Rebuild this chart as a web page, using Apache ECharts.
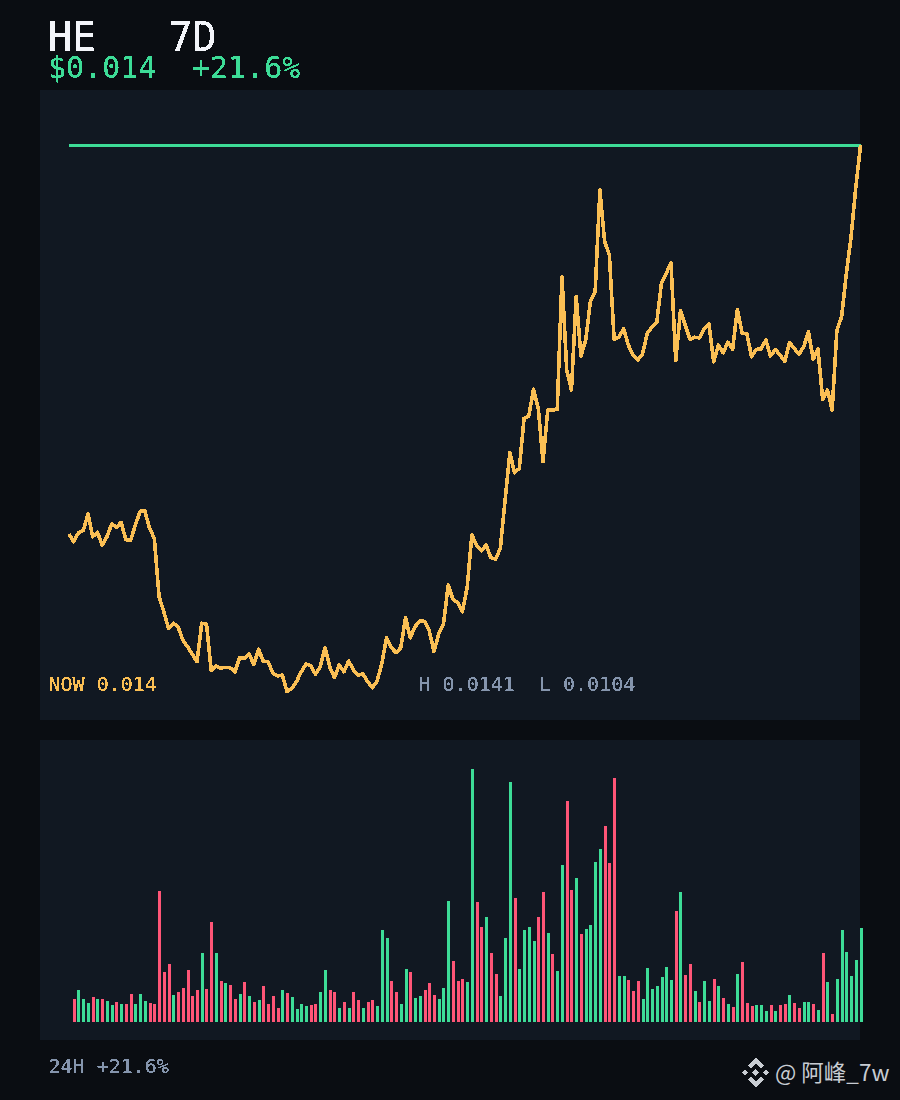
<!DOCTYPE html>
<html><head><meta charset="utf-8">
<style>
html,body{margin:0;padding:0;background:#0a0d12}
#c{width:900px;height:1100px}
#c svg path{shape-rendering:crispEdges}
#c svg text[style*="DejaVu"]{filter:url(#crisp)}
</style>
<script src="https://cdn.jsdelivr.net/npm/echarts@6/dist/echarts.min.js"></script>
</head><body>
<svg width="0" height="0" style="position:absolute"><filter id="crisp" x="-5%" y="-20%" width="110%" height="140%" color-interpolation-filters="sRGB"><feComponentTransfer><feFuncA type="discrete" tableValues="0 1 1"/></feComponentTransfer></filter></svg>
<div id="c"></div>
<script>
// Closing price, in millionths of a USD (0.0104 .. 0.0141)
const closeMicroUsd = [
11467,11415,11476,11490,11603,11449,11479,11391,11449,11535,11513,11546,11429,11425,11528,11621,11623,11506,11438,11043,
10941,10829,10863,10840,10750,10705,10655,10603,10863,10858,10545,10574,10560,10565,10562,10535,10630,10626,10655,10583,
10687,10606,10603,10525,10506,10513,10400,10423,10468,10535,10587,10576,10518,10569,10698,10569,10495,10581,10535,10608,
10547,10513,10520,10468,10427,10472,10592,10765,10698,10664,10698,10901,10765,10840,10878,10876,10813,10671,10791,10858,
11122,11025,11002,10941,11107,11461,11388,11354,11393,11307,11296,11371,11697,12018,11882,11912,12250,12266,12447,12318,
11957,12307,12306,12311,13209,12577,12442,13073,12672,12780,13040,13107,13795,13446,13356,12785,12799,12855,12746,12679,
12645,12686,12826,12870,12900,13168,13232,13303,12640,12977,12882,12785,12799,12794,12855,12889,12633,12746,12694,12765,
12717,12988,12826,12823,12667,12717,12719,12780,12672,12717,12679,12636,12762,12724,12684,12735,12836,12650,12719,12379,
12442,12307,12848,12938,13232,13479,13818,14100];
const highMicroUsd = 14100;
const lowMicroUsd = 10400;
// Relative volume for candles 1..167
const volume = [
23,32,23,19,25,23,23,21,17,20,18,18,28,18,28,21,19,18,131,50,58,27,30,34,52,26,32,69,33,100,69,41,39,37,23,28,40,26,20,22,
36,18,26,14,32,29,25,13,18,16,17,18,30,52,32,30,14,20,14,30,22,14,20,22,16,92,84,41,30,18,53,50,24,26,32,39,27,23,34,121,
61,41,43,40,253,120,95,105,69,48,26,84,240,124,53,92,95,81,105,130,89,68,51,157,221,132,144,88,93,97,160,173,196,159,244,46,46,42,31,41,
23,54,33,36,45,55,42,111,130,47,58,31,20,41,21,43,36,24,18,15,48,60,19,16,17,17,11,17,11,17,18,27,19,14,20,20,18,12,69,40,
8,43,92,70,46,62,94];
const titleText = "HE   7D";
const priceText = "$0.014";
const changeText = "+21.6%";
const nowText = "NOW 0.014";
const rangeText = "H 0.0141  L 0.0104";
const footText = "24H +21.6%";
const markText = "@ 阿峰_7w";

const GREEN="#3ddc97",RED="#ff5577",GOLD="#fbbf54",GREY="#8595ad",WHITE="#f3f5fa",PANEL="#111822",MONO='"DejaVu Sans Mono",monospace';
const dirOf = i => closeMicroUsd[i+1] >= closeMicroUsd[i] ? GREEN : RED;
const t=(x,y,text,size,fill,font)=>({type:'text',x,y,silent:true,style:{text,fill,font:`${size}px ${font||MONO}`}});
const poly=(pts)=>({type:'polygon',silent:true,shape:{points:pts},style:{fill:'#c9cdd3'}});
const c=[755.5,1072.5];
const rel=a=>a.map(p=>[c[0]+p[0],c[1]+p[1]]);
const chart=echarts.init(document.getElementById('c'),null,{renderer:'svg'});
chart.setOption({
  animation:false,
  backgroundColor:'#0a0d12',
  grid:[
    {left:69,top:145,width:791.6,height:546.7,containLabel:false},
    {left:69.5,top:769,width:791.6,height:253}
  ],
  xAxis:[
    {type:'value',gridIndex:0,min:0,max:167,show:false},
    {type:'value',gridIndex:1,min:0,max:167,show:false}
  ],
  yAxis:[
    {type:'value',gridIndex:0,min:lowMicroUsd,max:highMicroUsd,show:false},
    {type:'value',gridIndex:1,min:0,max:253,show:false}
  ],
  graphic:[
    {type:'rect',z:-10,silent:true,shape:{x:40,y:90,width:820,height:630},style:{fill:PANEL}},
    {type:'rect',z:-10,silent:true,shape:{x:40,y:740,width:820,height:300},style:{fill:PANEL}},
    t(48,17,titleText,40,WHITE),
    t(48,52,priceText,30,GREEN),
    t(192,52,changeText,30,GREEN),
    t(48.5,674,nowText,20,GOLD),
    t(418.5,674,rangeText,20,GREY),
    t(48.5,1056,footText,20,GREY),
    t(775,1060,markText,22.5,'#c8ccd2','"Noto Sans CJK SC",sans-serif'),
    poly(rel([[0,-15],[8,-7],[5,-4],[0,-9],[-5,-4],[-8,-7]])),
    poly(rel([[0,15],[8,7],[5,4],[0,9],[-5,4],[-8,7]])),
    poly(rel([[0,-3.5],[3.5,0],[0,3.5],[-3.5,0]])),
    poly(rel([[-10.5,-3],[-7.5,0],[-10.5,3],[-13.5,0]])),
    poly(rel([[10.5,-3],[13.5,0],[10.5,3],[7.5,0]]))
  ],
  series:[
    {type:'line',xAxisIndex:0,yAxisIndex:0,symbol:'none',silent:true,clip:false,
     lineStyle:{color:GREEN,width:3},data:[[0,highMicroUsd],[closeMicroUsd.length-1,highMicroUsd]]},
    {type:'line',xAxisIndex:0,yAxisIndex:0,symbol:'none',silent:true,clip:false,
     lineStyle:{color:GOLD,width:3.6,join:'round'},data:closeMicroUsd.map((v,i)=>[i,v])},
    {type:'bar',xAxisIndex:1,yAxisIndex:1,barWidth:3,silent:true,clip:false,
     data:volume.map((v,i)=>({value:[i+1,v],itemStyle:{color:dirOf(i)}}))}
  ]
});
</script></body></html>
